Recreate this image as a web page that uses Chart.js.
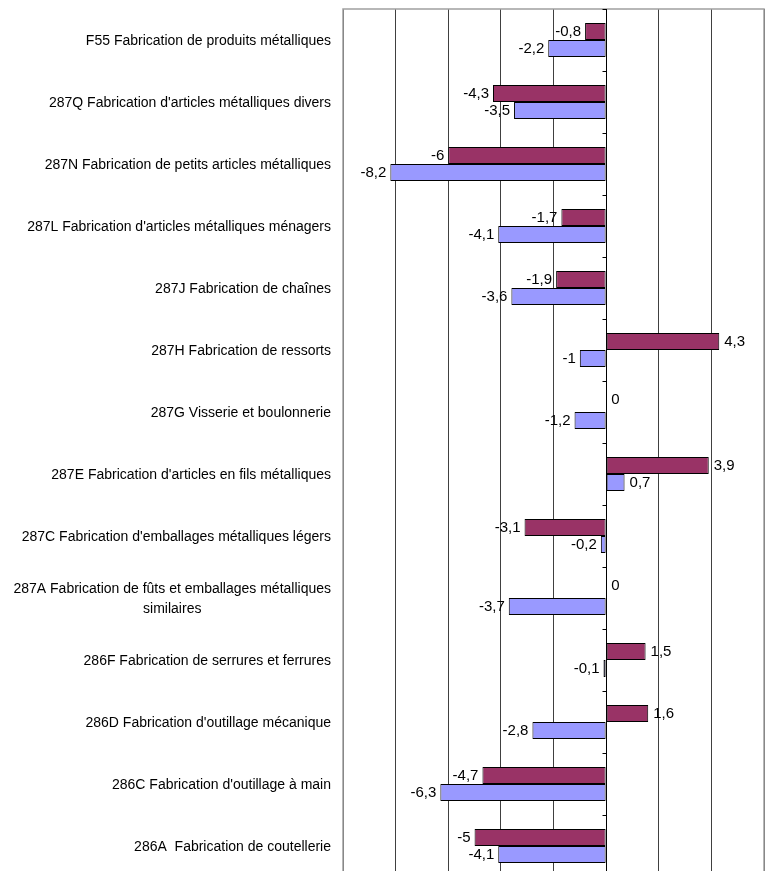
<!DOCTYPE html>
<html lang="fr">
<head>
<meta charset="utf-8">
<title>Évolution par activité</title>
<script src="https://cdn.jsdelivr.net/npm/chart.js@4/dist/chart.umd.min.js"></script>
<style>
  html, body { margin: 0; padding: 0; background: #fff; overflow: hidden; }
  #wrap { width: 768px; height: 871px; overflow: hidden; }
  canvas { display: block; }
</style>
</head>
<body>
<div id="wrap"><canvas id="c" width="768" height="878"></canvas></div>
<script>
// Activity labels (a line break marks a wrapped label)
const categories = [
  "F55 Fabrication de produits métalliques",
  "287Q Fabrication d'articles métalliques divers",
  "287N Fabrication de petits articles métalliques",
  "287L Fabrication d'articles métalliques ménagers",
  "287J Fabrication de chaînes",
  "287H Fabrication de ressorts",
  "287G Visserie et boulonnerie",
  "287E Fabrication d'articles en fils métalliques",
  "287C Fabrication d'emballages métalliques légers",
  "287A Fabrication de fûts et emballages métalliques\nsimilaires",
  "286F Fabrication de serrures et ferrures",
  "286D Fabrication d'outillage mécanique",
  "286C Fabrication d'outillage à main",
  "286A  Fabrication de coutellerie"
];

// First series (dark bars)
const seriesA = [-0.8, -4.3, -6, -1.7, -1.9, 4.3, 0, 3.9, -3.1, 0, 1.5, 1.6, -4.7, -5];
// Second series (light bars)
const seriesB = [-2.2, -3.5, -8.2, -4.1, -3.6, -1, -1.2, 0.7, -0.2, -3.7, -0.1, -2.8, -6.3, -4.1];

// Value axis range and grid step
const axisMin = -10;
const axisMax = 6;
const axisStep = 2;

const FONT = "'Liberation Sans', Arial, Helvetica, sans-serif";

function frNumber(v) {
  return String(v).replace('.', ',');
}

// Plot frame, zero axis with category tick marks, category names and value labels
const decorations = {
  id: 'decorations',
  afterDatasetsDraw(chart) {
    const ctx = chart.ctx;
    const area = chart.chartArea;
    const xs = chart.scales.x;
    const ys = chart.scales.y;
    const zeroX = Math.round(xs.getPixelForValue(0)) + 0.5;

    ctx.save();
    // frame
    ctx.strokeStyle = '#a0a0a0';
    ctx.lineWidth = 1.5;
    ctx.beginPath();
    ctx.moveTo(area.left, area.bottom + 2);
    ctx.lineTo(area.left, area.top);
    ctx.lineTo(area.right, area.top);
    ctx.lineTo(area.right, area.bottom + 2);
    ctx.stroke();

    // zero axis and tick marks between categories
    ctx.strokeStyle = '#000';
    ctx.lineWidth = 1;
    ctx.beginPath();
    ctx.moveTo(zeroX, area.top);
    ctx.lineTo(zeroX, area.bottom);
    const n = categories.length;
    const band = (area.bottom - area.top) / n;
    for (let i = 0; i <= n; i++) {
      const y = Math.round(area.top + i * band) + 0.5;
      ctx.moveTo(zeroX - 4, y);
      ctx.lineTo(zeroX, y);
    }
    ctx.stroke();

    // category names
    ctx.fillStyle = '#000';
    ctx.font = '14px ' + FONT;
    ctx.textBaseline = 'middle';
    const lineH = 20;
    categories.forEach((label, i) => {
      const lines = label.split('\n');
      const cy = ys.getPixelForValue(i) + 1;
      const widths = lines.map(l => ctx.measureText(l).width);
      const blockW = Math.max(...widths);
      const right = area.left - 12;
      const blockCenter = right - blockW / 2;
      lines.forEach((l, k) => {
        const y = cy + (k - (lines.length - 1) / 2) * lineH;
        ctx.textAlign = 'center';
        ctx.fillText(l, blockCenter, y);
      });
    });

    // value labels at the end of each bar
    ctx.font = '15px ' + FONT;
    chart.data.datasets.forEach((ds, di) => {
      const meta = chart.getDatasetMeta(di);
      meta.data.forEach((bar, i) => {
        const v = ds.data[i];
        const txt = frNumber(v);
        const y = bar.y;
        if (v < 0) {
          ctx.textAlign = 'right';
          ctx.fillText(txt, bar.x - 4, y);
        } else {
          ctx.textAlign = 'left';
          ctx.fillText(txt, bar.x + 5, v === 0 ? y - 4 : y);
        }
      });
    });
    ctx.restore();
  }
};

new Chart(document.getElementById('c'), {
  type: 'bar',
  data: {
    labels: categories,
    datasets: [
      {
        data: seriesA,
        backgroundColor: '#993366',
        borderColor: '#000',
        borderWidth: 1,
        borderSkipped: false,
        barPercentage: 1,
        categoryPercentage: 0.55
      },
      {
        data: seriesB,
        backgroundColor: '#9999ff',
        borderColor: '#000',
        borderWidth: 1,
        borderSkipped: false,
        barPercentage: 1,
        categoryPercentage: 0.55
      }
    ]
  },
  options: {
    indexAxis: 'y',
    responsive: false,
    animation: false,
    layout: { padding: { left: 343, top: 9, right: 4, bottom: 1 } },
    plugins: {
      legend: { display: false },
      tooltip: { enabled: false }
    },
    scales: {
      x: {
        min: axisMin,
        max: axisMax,
        ticks: { display: false, stepSize: axisStep },
        grid: { color: '#404040', lineWidth: 1, drawTicks: false },
        border: { display: false },
        afterFit(s) { s.height = 0; }
      },
      y: {
        display: false
      }
    }
  },
  plugins: [decorations]
});
</script>
</body>
</html>
